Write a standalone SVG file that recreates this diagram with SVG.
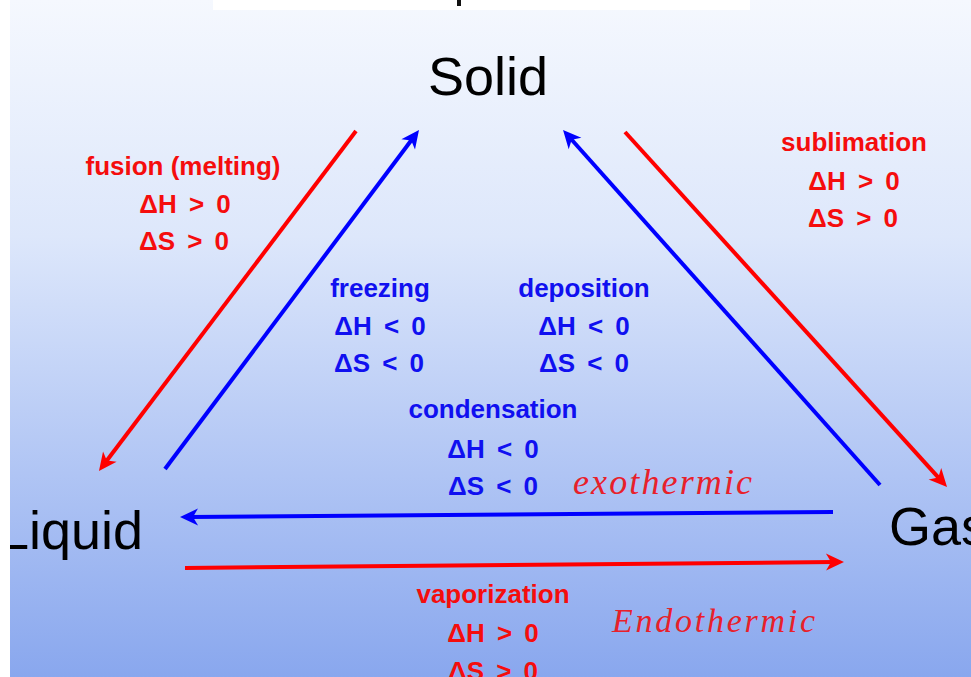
<svg xmlns="http://www.w3.org/2000/svg" width="971" height="677" viewBox="0 0 971 677">
<defs>
<linearGradient id="bg" x1="0" y1="0" x2="0" y2="677" gradientUnits="userSpaceOnUse">
<stop offset="0" stop-color="#f5f8fe"/>
<stop offset="0.35" stop-color="#dde7fb"/>
<stop offset="1" stop-color="#89a7ee"/>
</linearGradient>
<marker id="ahR" viewBox="-10 -10 22 20" refX="0" refY="0" markerWidth="22" markerHeight="20" markerUnits="userSpaceOnUse" orient="auto">
<path d="M10,0 L-8,-8.5 L-3,0 L-8,8.5 Z" fill="#ff0000"/>
</marker>
<marker id="ahB" viewBox="-10 -10 22 20" refX="0" refY="0" markerWidth="22" markerHeight="20" markerUnits="userSpaceOnUse" orient="auto">
<path d="M10,0 L-8,-8.5 L-3,0 L-8,8.5 Z" fill="#0000ff"/>
</marker>
<style>
.state{font-family:"Liberation Sans",Arial,sans-serif;font-size:54px;fill:#000;}
.lbl{font-family:"Liberation Sans",Arial,sans-serif;font-weight:bold;font-size:26px;text-anchor:middle;}
.eq{word-spacing:5px;}
.red{fill:#f50d0d;}
.blue{fill:#1010f0;}
.hand{font-family:"Liberation Serif","DejaVu Serif",serif;font-style:italic;fill:#e8202a;}
.r{stroke:#ff0000;stroke-width:4;fill:none;marker-end:url(#ahR);}
.b{stroke:#0000ff;stroke-width:4;fill:none;marker-end:url(#ahB);}
</style>
</defs>
<rect x="0" y="0" width="971" height="677" fill="url(#bg)"/>
<rect x="213" y="0" width="537" height="10" fill="#ffffff"/>
<rect x="457" y="0" width="4" height="6" fill="#111"/>

<g id="solid"><text class="state" x="488" y="95" text-anchor="middle">Solid</text></g>
<g id="liquid"><text class="state" x="-1" y="549">Liquid</text></g>
<g id="gas"><text class="state" x="889" y="545">Gas</text></g>

<g id="connectors">
<line class="r" x1="356" y1="131" x2="105" y2="463"/>
<line class="b" x1="165" y1="469" x2="413" y2="138"/>
<line class="b" x1="880" y1="485" x2="569.7" y2="137.5"/>
<line class="r" x1="625" y1="132" x2="940.3" y2="479.6"/>
<line class="b" x1="833" y1="512" x2="190" y2="517"/>
<line class="r" x1="185" y1="568" x2="834" y2="562"/>
</g>

<g id="label-fusion" class="lbl red">
<text x="183" y="175">fusion (melting)</text>
<text class="eq" x="185" y="213">ΔH &gt; 0</text>
<text class="eq" x="184" y="250">ΔS &gt; 0</text>
</g>
<g id="label-freezing" class="lbl blue">
<text x="380" y="297">freezing</text>
<text class="eq" x="380" y="335">ΔH &lt; 0</text>
<text class="eq" x="379" y="372">ΔS &lt; 0</text>
</g>
<g id="label-deposition" class="lbl blue">
<text x="584" y="297">deposition</text>
<text class="eq" x="584" y="335">ΔH &lt; 0</text>
<text class="eq" x="584" y="372">ΔS &lt; 0</text>
</g>
<g id="label-sublimation" class="lbl red">
<text x="854" y="151">sublimation</text>
<text class="eq" x="854" y="190">ΔH &gt; 0</text>
<text class="eq" x="853" y="227">ΔS &gt; 0</text>
</g>
<g id="label-condensation" class="lbl blue">
<text x="493" y="418">condensation</text>
<text class="eq" x="493" y="458">ΔH &lt; 0</text>
<text class="eq" x="493" y="495">ΔS &lt; 0</text>
</g>
<g id="label-vaporization" class="lbl red">
<text x="493" y="603">vaporization</text>
<text class="eq" x="493" y="642">ΔH &gt; 0</text>
<text class="eq" x="493" y="680">ΔS &gt; 0</text>
</g>

<g id="note-exothermic"><text class="hand" x="573" y="494" font-size="36" textLength="179" lengthAdjust="spacing">exothermic</text></g>
<g id="note-endothermic"><text class="hand" x="612" y="632" font-size="34" textLength="203" lengthAdjust="spacing">Endothermic</text></g>

<rect x="0" y="0" width="10" height="677" fill="#ffffff"/>
</svg>
